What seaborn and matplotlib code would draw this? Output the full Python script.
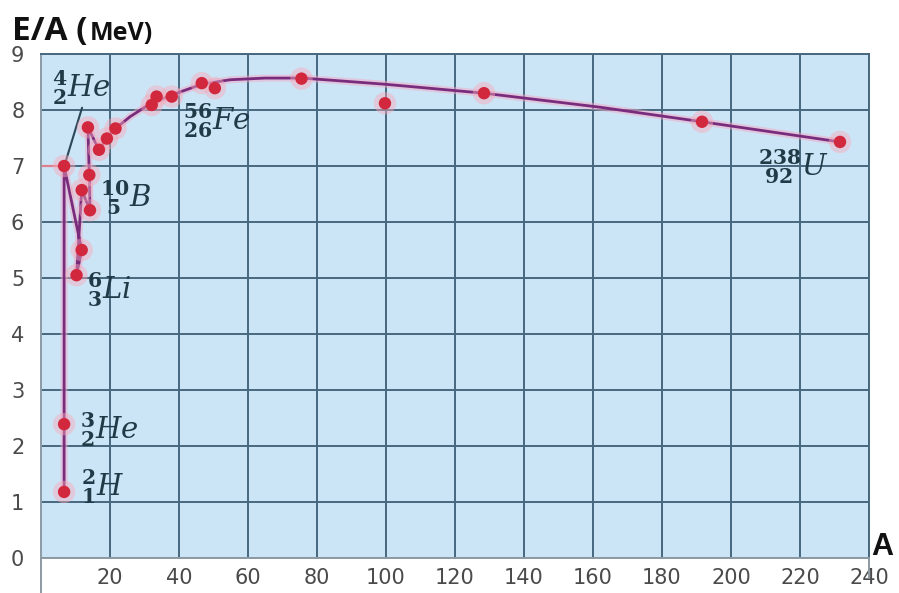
import matplotlib
matplotlib.use("Agg")
import matplotlib.pyplot as plt
import seaborn as sns
import pandas as pd

# ---- data ----
point_A = [6.7, 6.7, 6.7, 10.3, 11.8, 11.8, 14.2, 14.0, 13.6, 16.8, 19.1, 21.6,
           32.1, 33.5, 37.9, 46.6, 50.4, 75.5, 99.7, 128.4, 191.6, 231.6]
point_E = [1.18, 2.39, 7.0, 5.05, 5.5, 6.57, 6.21, 6.84, 7.69, 7.29, 7.49, 7.67,
           8.09, 8.24, 8.24, 8.48, 8.39, 8.56, 8.12, 8.30, 7.79, 7.43]

curve_A = [6.7, 6.7, 6.7, 11.8, 10.3, 11.8, 14.2, 14.0, 13.6, 16.8, 19.1, 21.6,
           25.8, 31.6, 38.0, 46.6, 54.8, 64.9, 75.9, 99.7, 128.4, 162.0, 191.6, 231.6]
curve_E = [1.18, 2.39, 7.0, 5.5, 5.05, 6.57, 6.21, 6.84, 7.69, 7.29, 7.49, 7.67,
           7.88, 8.11, 8.27, 8.46, 8.54, 8.57, 8.57, 8.46, 8.30, 8.05, 7.79, 7.43]

nuclide_labels = [r"${}^{\mathbf{4}}_{\mathbf{2}}He$",
                  r"${}^{\mathbf{56}}_{\mathbf{26}}Fe$",
                  r"${}^{\mathbf{10}}_{\ \mathbf{5}}B$",
                  r"${}^{\mathbf{6}}_{\mathbf{3}}Li$",
                  r"${}^{\mathbf{3}}_{\mathbf{2}}He$",
                  r"${}^{\mathbf{2}}_{\mathbf{1}}H$",
                  r"${}^{\mathbf{238}}_{\ \mathbf{92}}U$"]
label_A = [3.2, 41.2, 17.2, 13.3, 11.3, 11.6, 207.8]
label_E = [8.39, 7.80, 6.43, 4.79, 2.29, 1.27, 6.98]

x_ticks = list(range(20, 241, 20))
y_ticks = list(range(0, 10))

pts = pd.DataFrame({"A": point_A, "E": point_E})
crv = pd.DataFrame({"A": curve_A, "E": curve_E})

sns.set_style("whitegrid")
plt.rcParams["font.family"] = ["DejaVu Sans"]
plt.rcParams["mathtext.fontset"] = "dejavuserif"

fig = plt.figure(figsize=(8.99, 5.93), dpi=100)
ax = fig.add_axes([41 / 899, 1 - 558 / 593, 828 / 899, 504 / 593])
ax.set_facecolor("#CCE5F6")

# red guide at the 4He level
ax.plot([0, point_A[2]], [point_E[2], point_E[2]], color="#E0808E", lw=1.6, zorder=2)
# pointer for 4He
ax.plot([7.0, 11.9], [7.05, 8.04], color="#2B4656", lw=1.5, zorder=2)

# curve with pinkish halo
sns.lineplot(data=crv, x="A", y="E", sort=False, estimator=None, ax=ax,
             color="#F3A6C6", lw=5, alpha=0.5, zorder=3)
sns.lineplot(data=crv, x="A", y="E", sort=False, estimator=None, ax=ax,
             color="#7A2C7C", lw=2.0, zorder=4)

# points with halo
sns.scatterplot(data=pts, x="A", y="E", ax=ax, s=260, color="#F7A8B8",
                alpha=0.45, edgecolor="none", zorder=5)
sns.scatterplot(data=pts, x="A", y="E", ax=ax, s=80, color="#D2283E",
                edgecolor="none", zorder=6)

for lab, xa, ye in zip(nuclide_labels, label_A, label_E):
    ax.text(xa, ye, lab, fontsize=21, color="#213A48", ha="left", va="center",
            zorder=7)

ax.set_xlim(0, 240)
ax.set_ylim(0, 9)
ax.set_xticks(x_ticks)
ax.set_yticks(y_ticks)
ax.grid(True, color="#46677E", lw=1.4)
ax.set_axisbelow(True)
ax.tick_params(axis="both", length=0, labelsize=15, labelcolor="#4A4A4A")
ax.tick_params(axis="x", pad=7)
ax.tick_params(axis="y", pad=12)
ax.set_xlabel("")
ax.set_ylabel("")
for side in ["top", "right"]:
    ax.spines[side].set_color("#46677E")
    ax.spines[side].set_linewidth(1.4)
for side in ["left", "bottom"]:
    ax.spines[side].set_color("#8C9AA4")
    ax.spines[side].set_linewidth(1.4)
ax.axvline(0, ymin=-0.07, ymax=0, color="#8C9AA4", lw=1.4, clip_on=False)
ax.axvline(240, ymin=-0.04, ymax=0, color="#8C9AA4", lw=1.4, clip_on=False)

t1 = fig.text(12 / 899, 1 - 40 / 593, "E/A (", fontsize=24, fontweight="bold",
              family=["Open Sans", "DejaVu Sans"], color="#111111",
              ha="left", va="baseline")
fig.canvas.draw()
bb = t1.get_window_extent(renderer=fig.canvas.get_renderer())
fig.text(bb.x1 / 899 + 2 / 899, 1 - 40 / 593, "MeV)", fontsize=18, fontweight="bold",
         family=["Open Sans", "DejaVu Sans"], color="#111111", ha="left", va="baseline")
fig.text(871 / 899, 1 - 555 / 593, "A", fontsize=22, fontweight="bold",
         family=["Liberation Sans", "DejaVu Sans"], color="#111111", ha="left", va="baseline")

fig.savefig("out.png", dpi=100, facecolor="white")
